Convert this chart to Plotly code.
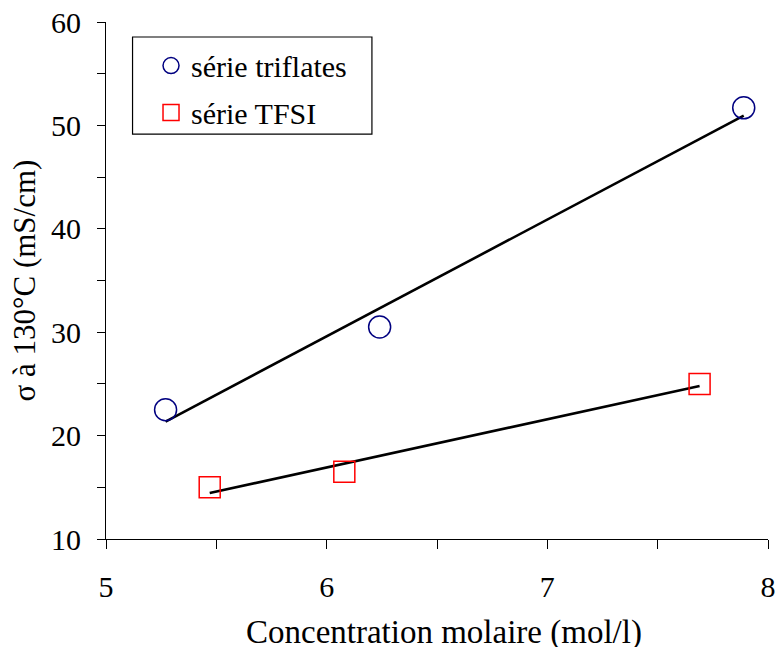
import plotly.graph_objects as go

# Data
conc_triflates = [5.27, 6.24, 7.89]
sigma_triflates = [22.5, 30.5, 51.7]
conc_tfsi = [5.47, 6.08, 7.69]
sigma_tfsi = [15.0, 16.5, 25.0]
trend_x_triflates = [5.27, 7.89]
trend_y_triflates = [21.35, 50.95]
trend_x_tfsi = [5.47, 7.69]
trend_y_tfsi = [14.45, 24.8]
x_tick_vals = [5, 5.5, 6, 6.5, 7, 7.5, 8]
x_tick_text = ["5", "", "6", "", "7", "", "8"]
y_tick_vals = [10, 15, 20, 25, 30, 35, 40, 45, 50, 55, 60]
y_tick_text = ["10", "", "20", "", "30", "", "40", "", "50", "", "60"]
x_title = "Concentration molaire (mol/l)"
y_title = "σ à 130°C (mS/cm)"

FONT = "Liberation Serif"

fig = go.Figure()
fig.add_trace(go.Scatter(x=trend_x_triflates, y=trend_y_triflates, mode="lines",
                         line=dict(color="black", width=2.6), showlegend=False, hoverinfo="skip"))
fig.add_trace(go.Scatter(x=trend_x_tfsi, y=trend_y_tfsi, mode="lines",
                         line=dict(color="black", width=2.6), showlegend=False, hoverinfo="skip"))
fig.add_trace(go.Scatter(x=conc_triflates, y=sigma_triflates, mode="markers", name="série triflates",
                         legendgroup="a",
                         marker=dict(symbol="circle-open", size=22, color="#000080",
                                     line=dict(color="#000080", width=1.5))))
fig.add_trace(go.Scatter(x=conc_tfsi, y=sigma_tfsi, mode="markers", name="série TFSI",
                         legendgroup="b",
                         marker=dict(symbol="square-open", size=21, color="#FF0000",
                                     line=dict(color="#FF0000", width=1.5))))

# legend frame drawn as a shape (paper coordinates)
fig.add_shape(type="rect", xref="paper", yref="paper",
              x0=0.0401, x1=0.4017, y0=0.7832, y1=0.971,
              line=dict(color="black", width=1.2), fillcolor="rgba(0,0,0,0)", layer="above")

# x-axis title as an annotation so it can sit at the very bottom edge
fig.add_annotation(text=x_title, xref="paper", yref="paper", x=0.5106, y=-0.181,
                   xanchor="center", yanchor="middle", showarrow=False,
                   font=dict(family=FONT, size=33, color="black"))

fig.update_layout(
    width=777, height=647,
    margin=dict(l=106, r=9, t=22, b=108, autoexpand=False),
    paper_bgcolor="white", plot_bgcolor="white",
    font=dict(family=FONT, size=30, color="black"),
    legend=dict(x=0.068, y=0.966, xanchor="left", yanchor="top",
                borderwidth=0, bgcolor="rgba(0,0,0,0)",
                font=dict(family=FONT, size=30), tracegroupgap=5,
                traceorder="grouped"),
    xaxis=dict(range=[5, 8], tickvals=x_tick_vals, ticktext=x_tick_text,
               ticks="outside", ticklen=9, tickwidth=1, tickcolor="black",
               showline=True, linecolor="black", linewidth=1.2,
               showgrid=False, zeroline=False, ticklabelstandoff=12,
               ticklabeloverflow="allow",
               tickfont=dict(family=FONT, size=30), automargin=False),
    yaxis=dict(range=[10, 60], tickvals=y_tick_vals, ticktext=y_tick_text,
               ticks="outside", ticklen=8, tickwidth=1, tickcolor="black",
               showline=True, linecolor="black", linewidth=1.2,
               showgrid=False, zeroline=False, ticklabelstandoff=10,
               ticklabeloverflow="allow",
               tickfont=dict(family=FONT, size=30), automargin=False,
               title=dict(text=y_title, font=dict(family=FONT, size=31), standoff=6)),
)

fig.write_html("out.html", config={"displayModeBar": False},
               post_script="document.body.style.margin='0';document.body.style.overflow='hidden';")
